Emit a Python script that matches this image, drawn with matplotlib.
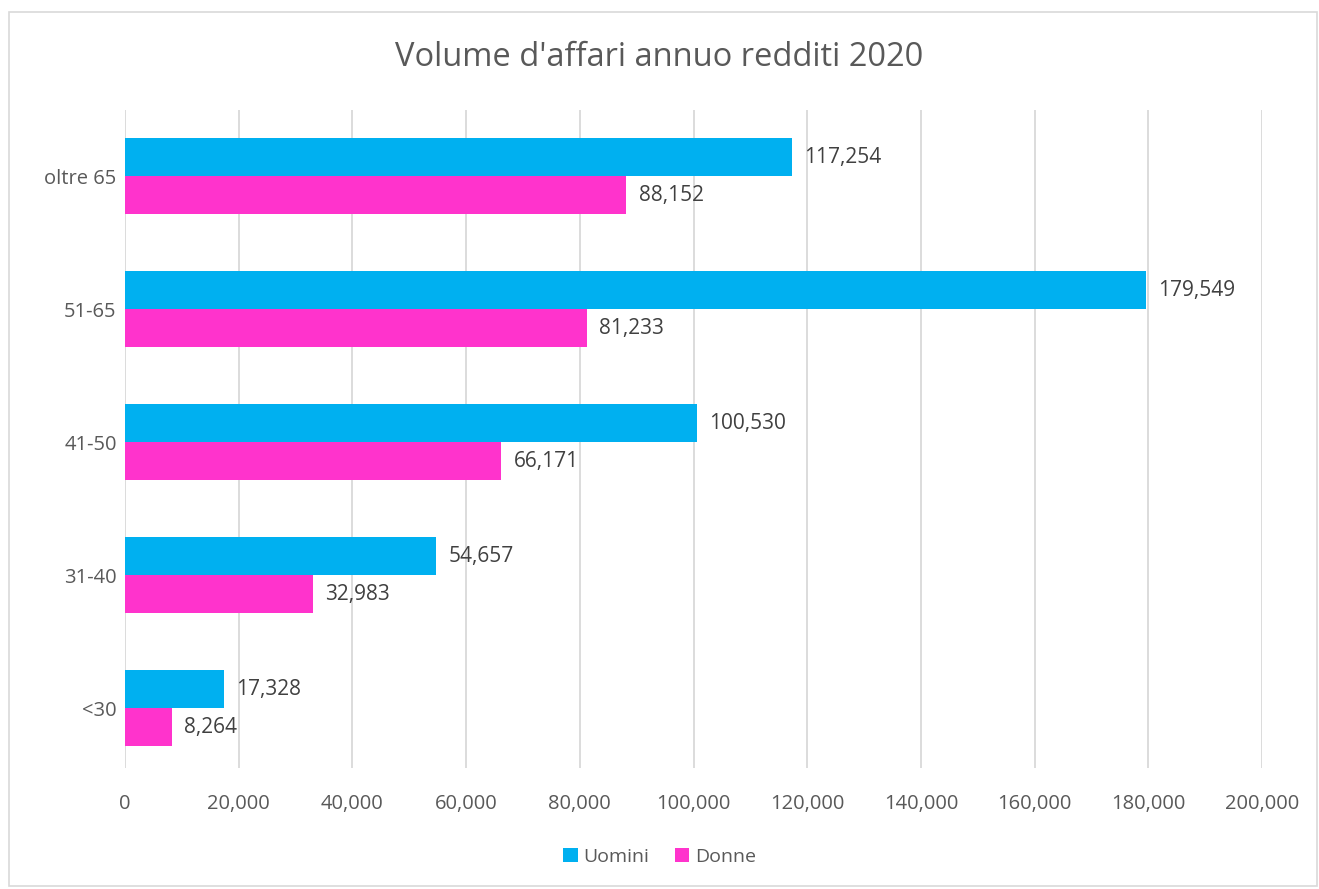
import matplotlib
matplotlib.use("Agg")
import matplotlib.pyplot as plt
from matplotlib.patches import Rectangle
from matplotlib.ticker import FuncFormatter
import numpy as np

categories = ["<30", "31-40", "41-50", "51-65", "oltre 65"]
uomini = [17328, 54657, 100530, 179549, 117254]
donne = [8264, 32983, 66171, 81233, 88152]
series_names = ["Uomini", "Donne"]
colors = ["#00B0F0", "#FF33CC"]
xticks = list(range(0, 200001, 20000))
title = "Volume d'affari annuo redditi 2020"

plt.rcParams['font.family'] = ['Open Sans', 'DejaVu Sans']
txt = "#595959"

fig = plt.figure(figsize=(13.19, 8.89), dpi=100)
ax = fig.add_axes([125/1319, 1 - 768/889, (1262-125)/1319, (768-110)/889])

y = np.arange(len(categories))
h = 0.286
ax.barh(y + h/2, uomini, height=h, color=colors[0], label=series_names[0], zorder=3)
ax.barh(y - h/2, donne, height=h, color=colors[1], label=series_names[1], zorder=3)

for yi, v in zip(y, uomini):
    ax.text(v + 2200, yi + h/2, f"{v:,}", va="center", ha="left", fontsize=15, color="#404040")
for yi, v in zip(y, donne):
    ax.text(v + 2200, yi - h/2, f"{v:,}", va="center", ha="left", fontsize=15, color="#404040")

ax.set_xlim(0, 200000)
ax.set_ylim(-0.45, 4.5)
ax.set_xticks(xticks)
ax.xaxis.set_major_formatter(FuncFormatter(lambda v, p: f"{int(v):,}"))
ax.set_yticks(y)
ax.set_yticklabels(categories)
ax.tick_params(length=0, labelsize=14.5, colors=txt)
ax.tick_params(axis="x", pad=19)
ax.tick_params(axis="y", pad=6)
ax.grid(axis="x", color="#D9D9D9", linewidth=1.3, zorder=0)
for s in ax.spines.values():
    s.set_visible(False)

fig.text(0.5, 1 - 57/889, title, ha="center", va="center", fontsize=23.5, color=txt)

leg = fig.legend(loc="center", bbox_to_anchor=(0.5, 1 - 857/889), ncol=2, frameon=False,
                 fontsize=14, handlelength=0.75, handleheight=0.75, handletextpad=0.3,
                 columnspacing=1.3, labelcolor=txt)

fig.patches.append(Rectangle((9/1319, 1 - 886/889), (1317-9)/1319, (886-12)/889,
                             transform=fig.transFigure, fill=False, edgecolor="#D9D9D9", linewidth=1.2))

fig.savefig("out.png", dpi=100)
